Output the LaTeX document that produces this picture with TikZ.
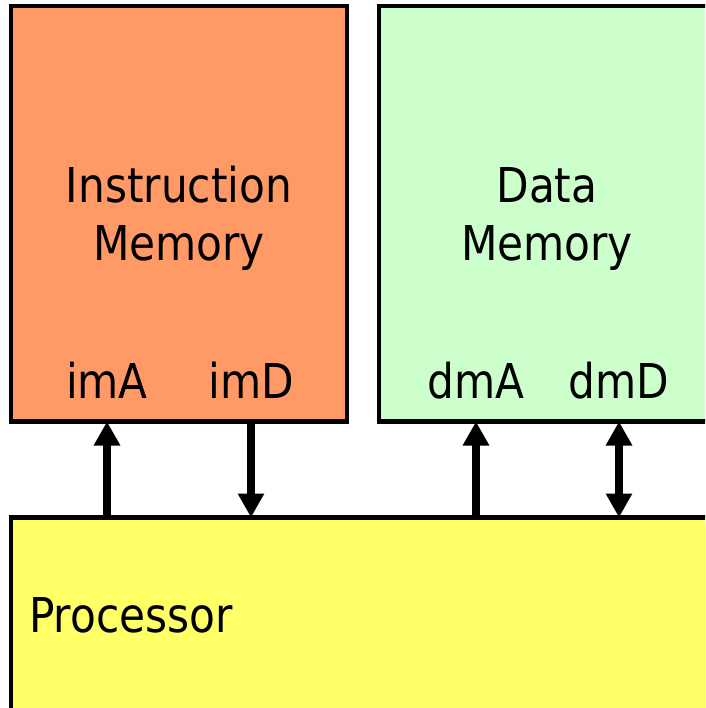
\documentclass[tikz,border=0pt]{standalone}
\usepackage{fontspec}
\setmainfont{DejaVu Sans}[FakeStretch=0.88]
\usetikzlibrary{arrows.meta}

\definecolor{imemfill}{HTML}{FF9966}
\definecolor{dmemfill}{HTML}{CCFFCC}
\definecolor{procfill}{HTML}{FFFF66}

\begin{document}
\begin{tikzpicture}[x=1pt, y=-1pt, line cap=butt, line join=miter]
  % ---- Styles ----
  \tikzset{
    unit/.style={draw, line width=4.5pt, rectangle, anchor=north west,
      inner sep=0pt, outer sep=0pt},
    title/.style={font=\fontsize{48pt}{58pt}\selectfont, align=center, anchor=base},
    port/.style={font=\fontsize{48pt}{58pt}\selectfont, anchor=base, inner sep=0pt},
    bus/.style={line width=8pt, -{Triangle[width=25pt, length=24pt]}},
    dbus/.style={line width=8pt, {Triangle[width=25pt, length=24pt]}-{Triangle[width=25pt, length=24pt]}},
  }

  % ---- Frame ----
  \useasboundingbox (0,0) rectangle (705,708);
  \clip (0,0) rectangle (705,708);

  % Memories and processor
  \node[unit, fill=imemfill, minimum width=336pt, minimum height=415.5pt] (imem) at (11,6) {};
  \node[unit, fill=dmemfill, minimum width=336pt, minimum height=415.5pt] (dmem) at (379,6) {};
  \node[unit, fill=procfill, minimum width=720pt, minimum height=220pt] (proc) at (11,517.5) {};

  % Titles (base = last line)
  \node[title] (imemtitle) at (179,261) {Instruction\\Memory};
  \node[title] (dmemtitle) at (547,261) {Data\\Memory};
  \node[port, anchor=base west] (proctitle) at (29,632) {Processor};

  % Port names
  \node[port] (imA) at (107,398) {imA};
  \node[port] (imD) at (251,398) {imD};
  \node[port] (dmA) at (476,398) {dmA};
  \node[port] (dmD) at (619,398) {dmD};

  % ---- Buses ----
  \draw[bus] (proc.north -| imA) -- (imem.south -| imA);
  \draw[bus] (imem.south -| imD) -- (proc.north -| imD);
  \draw[bus] (proc.north -| dmA) -- (dmem.south -| dmA);
  \draw[dbus] (proc.north -| dmD) -- (dmem.south -| dmD);

\end{tikzpicture}
\end{document}
